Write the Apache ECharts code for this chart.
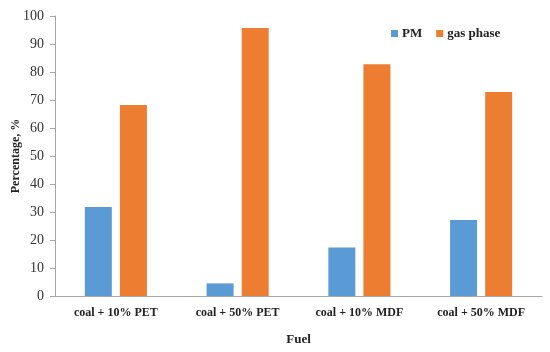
<!DOCTYPE html>
<html><head><meta charset="utf-8">
<script src="https://cdn.jsdelivr.net/npm/echarts@6/dist/echarts.min.js"></script>
<style>html,body{margin:0;padding:0;background:#fff}#c{width:550px;height:352px}</style>
</head><body><div id="c"></div>
<script>
const categories = ['coal + 10% PET', 'coal + 50% PET', 'coal + 10% MDF', 'coal + 50% MDF'];
const pmValues = [31.8, 4.5, 17.3, 27.1];
const gasValues = [68.2, 95.7, 82.8, 72.9];
const yTicks = {min: 0, max: 100, interval: 10};
const font = '"Liberation Serif", "DejaVu Serif", serif';
const chart = echarts.init(document.getElementById('c'), null, {renderer: 'canvas'});
chart.setOption({
  animation: false,
  backgroundColor: '#fff',
  grid: {left: 55, right: 8, top: 16, bottom: 56, containLabel: false, outerBoundsMode: 'none'},
  legend: {
    top: 22, left: 386, itemWidth: 7, itemHeight: 7, itemGap: 14,
    icon: 'rect',
    textStyle: {fontFamily: font, fontWeight: 'bold', fontSize: 13, color: '#222', padding: [0, 0, 0, -1]},
    data: ['PM', 'gas phase']
  },
  xAxis: {
    type: 'category', data: categories,
    name: 'Fuel', nameLocation: 'middle', nameGap: 37, nameMoveOverlap: false,
    nameTextStyle: {fontFamily: font, fontWeight: 'bold', fontSize: 13, color: '#222'},
    axisLine: {lineStyle: {color: '#a6a6a6', width: 1}},
    axisTick: {show: false},
    axisLabel: {interval: 0, fontFamily: font, fontWeight: 'bold', fontSize: 12, color: '#222', margin: 11}
  },
  yAxis: {
    type: 'value', min: yTicks.min, max: yTicks.max, interval: yTicks.interval,
    name: 'Percentage, %', nameLocation: 'middle', nameGap: 33, nameRotate: 90, nameMoveOverlap: false,
    nameTextStyle: {fontFamily: font, fontWeight: 'bold', fontSize: 12, color: '#222'},
    axisLine: {show: true, lineStyle: {color: '#a6a6a6', width: 1}},
    axisTick: {show: true, length: 5, lineStyle: {color: '#a6a6a6'}},
    splitLine: {show: false},
    axisLabel: {fontFamily: font, fontSize: 14, color: '#333', margin: 11}
  },
  series: [
    {name: 'PM', type: 'bar', data: pmValues, barWidth: 27, barGap: '30%', itemStyle: {color: '#5B9BD5'}},
    {name: 'gas phase', type: 'bar', data: gasValues, barWidth: 27, barGap: '30%', itemStyle: {color: '#ED7D31'}}
  ]
});
</script></body></html>
